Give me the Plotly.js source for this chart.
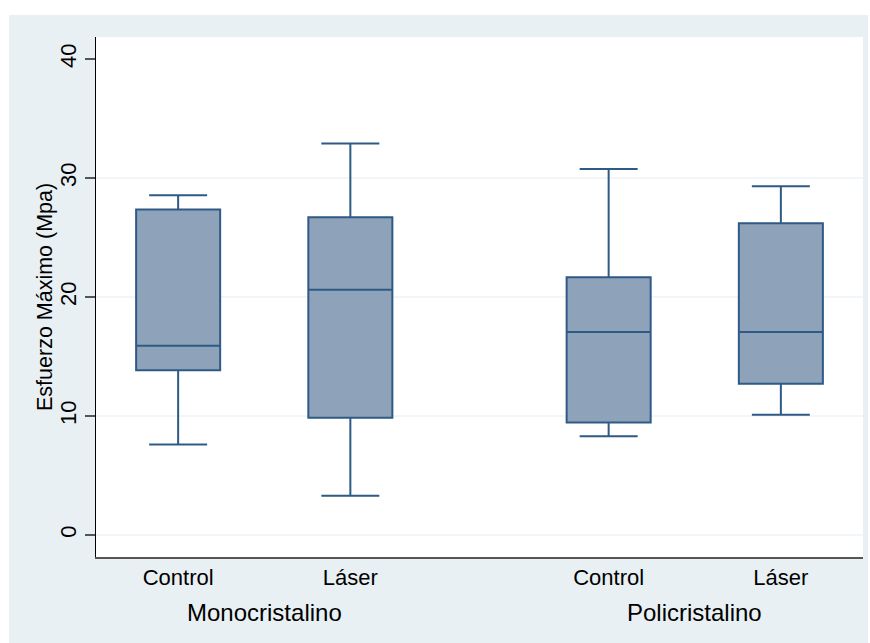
<!DOCTYPE html>
<html>
<head>
<meta charset="utf-8">
<script src="https://cdn.plot.ly/plotly-3.0.1.min.js"></script>
<style>
  html, body { margin: 0; padding: 0; background: #ffffff; width: 870px; height: 643px; overflow: hidden; }
  #chart { position: absolute; left: 9px; top: 15px; width: 859px; height: 628px; }
</style>
</head>
<body>
<div id="chart"></div>
<script>
// Data (Esfuerzo Máximo, Mpa)
const groups = ["Monocristalino", "Policristalino"];
const categories = ["Control", "Láser", "Control", "Láser"];
const lowerWhisker = [7.6, 3.3, 8.3, 10.1];
const q1Values     = [13.85, 9.85, 9.45, 12.7];
const medianValues = [15.9, 20.6, 17.05, 17.05];
const q3Values     = [27.35, 26.7, 21.65, 26.2];
const upperWhisker = [28.55, 32.9, 30.75, 29.3];
const yTicks = [0, 10, 20, 30, 40];

// positions: two groups of two boxes with a gap between groups
const positions = [1, 2, 3.5, 4.5];
const groupCenters = [1.5, 4];

const lineColor = "#2f5a86";
const fillColor = "#8ea3b9";
const bg = "#e9f0f3";
const font = "Liberation Sans, Arial, Helvetica, sans-serif";

const trace = {
  type: "box",
  x: positions,
  q1: q1Values,
  median: medianValues,
  q3: q3Values,
  lowerfence: lowerWhisker,
  upperfence: upperWhisker,
  width: 0.488,
  whiskerwidth: 0.69,
  fillcolor: fillColor,
  line: { color: lineColor, width: 2 },
  boxpoints: false,
  showlegend: false,
  hoverinfo: "y"
};

const gridShapes = yTicks.slice(0, -1).map(v => ({
  type: "line", xref: "paper", yref: "y", x0: 0, x1: 1, y0: v, y1: v,
  line: { color: "#e6eef2", width: 1.2 }, layer: "below"
}));

const layout = {
  width: 859, height: 628,
  margin: { l: 87, r: 5, t: 22, b: 86 },
  paper_bgcolor: bg,
  plot_bgcolor: "#ffffff",
  font: { family: font, color: "#000000" },
  xaxis: {
    range: [0.523, 4.977],
    tickvals: positions,
    ticktext: categories,
    tickfont: { size: 22, family: font, color: "#000" },
    ticks: "",
    showgrid: false,
    zeroline: false,
    showline: true,
    linecolor: "#555555",
    linewidth: 1.5,
    ticklabelstandoff: 0,
    fixedrange: true
  },
  yaxis: {
    range: [-1.85, 41.85],
    tickvals: yTicks,
    ticktext: yTicks.map(String),
    tickangle: -90,
    tickfont: { size: 22, family: font, color: "#000" },
    ticks: "outside",
    ticklen: 10,
    tickwidth: 1.5,
    tickcolor: "#555555",
    showgrid: false,
    zeroline: false,
    showline: true,
    linecolor: "#000000",
    linewidth: 1.5,
    fixedrange: true
  },
  shapes: gridShapes,
  annotations: [
    ...groups.map((g, i) => ({
      text: g, x: groupCenters[i], xref: "x", y: -(612 - 557) / 520, yref: "paper",
      xanchor: "center", yanchor: "middle", showarrow: false,
      font: { size: 24, family: font, color: "#000" }
    })),
    {
      text: "Esfuerzo Máximo (Mpa)", textangle: -90,
      x: -51 / 767, xref: "paper", y: 0.5, yref: "paper",
      xanchor: "center", yanchor: "middle", showarrow: false,
      font: { size: 21.5, family: font, color: "#000" }
    }
  ]
};

Plotly.newPlot("chart", [trace], layout, { displayModeBar: false, staticPlot: true });
</script>
</body>
</html>
